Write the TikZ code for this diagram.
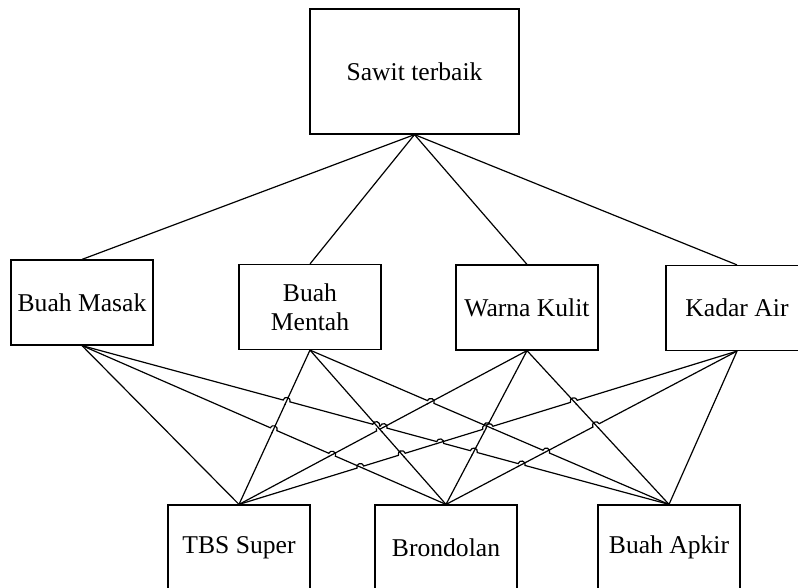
\documentclass[tikz,border=0pt]{standalone}
\usepackage{fontspec}
\setmainfont{Liberation Serif}
\usetikzlibrary{calc}
\newcommand\lblfont{\fontsize{19.2}{22}\selectfont}
\begin{document}
\begin{tikzpicture}[x=0.75pt,y=-0.75pt,
  box/.style={draw,line width=0.9pt,minimum width=106.5pt,minimum height=63.75pt,
              inner sep=1pt,align=center,font=\lblfont},
  goalbox/.style={box,minimum width=156.75pt,minimum height=93.75pt},
  link/.style={line width=0.9pt}]
\useasboundingbox (0,0) rectangle (798,587);
\clip (0,0) rectangle (798,587);

% goal, criteria and alternatives
\node[goalbox] (goal)   at (414.5,71.5) {Sawit terbaik};
\node[box]     (masak)  at (82,302.5)   {Buah Masak};
\node[box]     (mentah) at (310,307)    {Buah\\Mentah};
\node[box]     (warna)  at (527,307.5)  {Warna Kulit};
\node[box]     (kadar)  at (737,308)    {Kadar Air};
\node[box]     (tbs)    at (239,547.5)  {TBS Super};
\node[box]     (brond)  at (446,547.5)  {Brondolan};
\node[box]     (apkir)  at (669,547.5)  {Buah Apkir};

% goal to criteria
\foreach \c in {masak,mentah,warna,kadar}
  \draw[link] (goal.south) -- (\c.north);

% criteria to alternatives, listed from steepest to flattest
\foreach \ii/\c/\a in {1/kadar/apkir,2/mentah/tbs,3/warna/brond,4/mentah/brond,
                       5/warna/apkir,6/masak/tbs,7/warna/tbs,8/kadar/brond,
                       9/masak/brond,10/mentah/apkir,11/kadar/tbs,12/masak/apkir}{
  \coordinate (s\ii) at (\c.south);
  \coordinate (e\ii) at (\a.north);
  \draw[link] (s\ii) -- (e\ii);
}

% line jumps: the flatter line hops over the steeper one
\foreach \kk in {2,...,12}{
  \pgfmathtruncatemacro\prevline{\kk-1}
  \foreach \jj in {1,...,\prevline}{
    \path let \p1=(s\kk),\p2=(e\kk),\p3=(s\jj),\p4=(e\jj) in \pgfextra{
      \pgfmathsetmacro\hdx{(\x2-\x1)/100}
      \pgfmathsetmacro\hdy{(\y2-\y1)/100}
      \pgfmathsetmacro\hex{(\x4-\x3)/100}
      \pgfmathsetmacro\hey{(\y4-\y3)/100}
      \pgfmathsetmacro\hfx{(\x3-\x1)/100}
      \pgfmathsetmacro\hfy{(\y3-\y1)/100}
      \pgfmathsetmacro\hden{\hdx*\hey-\hdy*\hex}
      \pgfmathsetmacro\htt{(\hfx*\hey-\hfy*\hex)/\hden}
      \pgfmathsetmacro\huu{(\hfx*\hdy-\hfy*\hdx)/\hden}
      \pgfmathtruncatemacro\hhit{and(and(\htt>0.02,\htt<0.98),and(\huu>0.02,\huu<0.98))}
      \pgfmathsetmacro\hang{atan(\hdy/\hdx)}
      \xdef\nhits{\hhit}\xdef\tpos{\htt}\xdef\hopang{\hang}
    };
    \ifnum\nhits>0
      \coordinate (X) at ($(s\kk)!\tpos!(e\kk)$);
      \fill[white] (X) circle (2.4pt);
      \begin{scope}
        \clip (X) circle (3.4pt);
        \draw[link] (s\jj) -- (e\jj);
      \end{scope}
      \draw[link] ([shift={(\hopang+180:2.7pt)}]X)
        arc[start angle=\hopang+180,end angle=\hopang,radius=2.7pt];
    \fi
  }
}
\end{tikzpicture}
\end{document}
